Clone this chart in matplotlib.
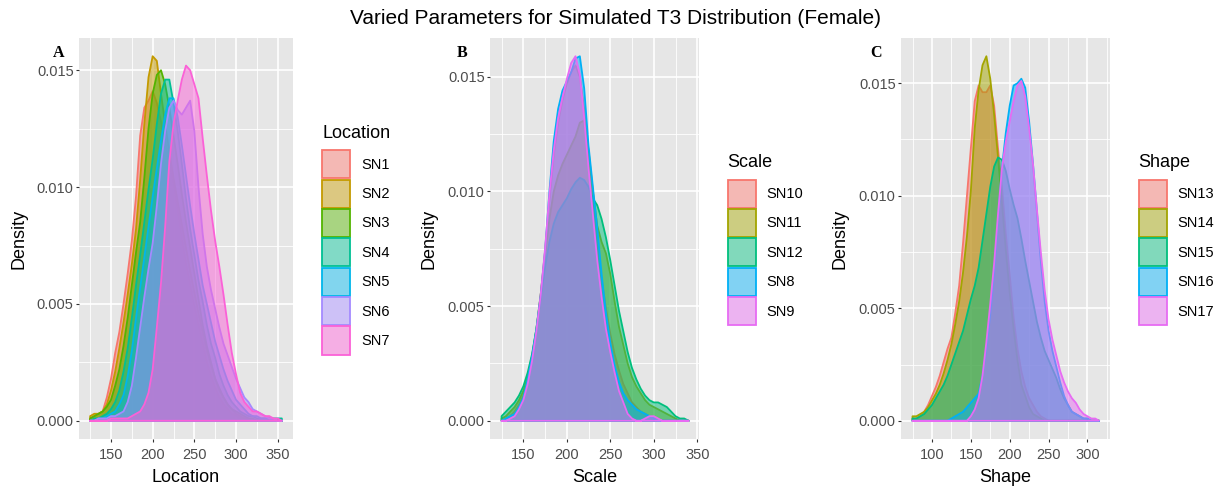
"""Varied parameters for simulated T3 distribution (female) - three density panels."""

import numpy as np
import matplotlib
matplotlib.use("Agg")
import matplotlib.pyplot as plt
import matplotlib.ticker as mticker
from matplotlib.colors import to_rgb
from matplotlib.patches import Patch

plt.rcParams["font.family"] = ["Liberation Sans", "DejaVu Sans"]

TITLE = "Varied Parameters for Simulated T3 Distribution (Female)"

# ---- panel A: location ------------------------------------------------------
A_X = np.arange(125, 360, 5)
A_LABELS = ["SN1", "SN2", "SN3", "SN4", "SN5", "SN6", "SN7"]
A_COLORS = ["#F8766D", "#C49A00", "#53B400", "#00C094", "#00B6EB", "#A58AFF", "#FB61D7"]
SN1 = [0.0001, 0.0002, 0.0003, 0.0004, 0.0010, 0.0018, 0.0029, 0.0038, 0.0050, 0.0063,
       0.0077, 0.0096, 0.0122, 0.0134, 0.0137, 0.0141, 0.0136, 0.0128, 0.0119, 0.0110,
       0.0101, 0.0090, 0.0078, 0.0067, 0.0058, 0.0049, 0.0041, 0.0033, 0.0025, 0.0019,
       0.0014, 0.0010, 0.0007, 0.0005, 0.0003, 0.0002, 0.0001, 0.0001, 0, 0,
       0, 0, 0, 0, 0, 0, 0]
SN2 = [0.0002, 0.0003, 0.0003, 0.0004, 0.0007, 0.0013, 0.0021, 0.0031, 0.0042, 0.0054,
       0.0067, 0.0082, 0.0103, 0.0127, 0.0147, 0.0156, 0.0154, 0.0140, 0.0127, 0.0115,
       0.0104, 0.0094, 0.0084, 0.0074, 0.0064, 0.0055, 0.0046, 0.0038, 0.0030, 0.0024,
       0.0018, 0.0013, 0.0010, 0.0007, 0.0005, 0.0003, 0.0002, 0.0001, 0.0001, 0,
       0, 0, 0, 0, 0, 0, 0]
SN3 = [0.0001, 0.0002, 0.0003, 0.0004, 0.0006, 0.0009, 0.0015, 0.0022, 0.0032, 0.0044,
       0.0058, 0.0072, 0.0085, 0.0104, 0.0125, 0.0140, 0.0148, 0.0150, 0.0144, 0.0134,
       0.0122, 0.0110, 0.0097, 0.0085, 0.0074, 0.0063, 0.0052, 0.0041, 0.0032, 0.0025,
       0.0018, 0.0014, 0.0010, 0.0007, 0.0005, 0.0004, 0.0003, 0.0002, 0.0001, 0.0001,
       0, 0, 0, 0, 0, 0, 0]
SN4 = [0, 0.0001, 0.0001, 0.0002, 0.0003, 0.0005, 0.0008, 0.0013, 0.0021, 0.0031,
       0.0044, 0.0058, 0.0071, 0.0085, 0.0099, 0.0112, 0.0127, 0.0140, 0.0146, 0.0146,
       0.0136, 0.0124, 0.0110, 0.0095, 0.0082, 0.0071, 0.0060, 0.0051, 0.0041, 0.0033,
       0.0027, 0.0020, 0.0015, 0.0011, 0.0008, 0.0006, 0.0004, 0.0003, 0.0002, 0.0002,
       0.0001, 0.0001, 0.0001, 0.0001, 0.0001, 0.0001, 0.0001]
SN5 = [0, 0, 0.0001, 0.0001, 0.0002, 0.0003, 0.0004, 0.0007, 0.0011, 0.0019,
       0.0030, 0.0044, 0.0057, 0.0070, 0.0083, 0.0096, 0.0108, 0.0120, 0.0131, 0.0138,
       0.0138, 0.0130, 0.0118, 0.0105, 0.0092, 0.0080, 0.0069, 0.0058, 0.0050, 0.0042,
       0.0034, 0.0028, 0.0022, 0.0017, 0.0013, 0.0009, 0.0007, 0.0005, 0.0003, 0.0002,
       0.0002, 0.0001, 0.0001, 0.0001, 0, 0, 0]
SN6 = [0, 0, 0.0001, 0.0001, 0.0001, 0.0002, 0.0002, 0.0003, 0.0004, 0.0008,
       0.0015, 0.0027, 0.0040, 0.0053, 0.0065, 0.0076, 0.0092, 0.0110, 0.0124, 0.0134,
       0.0137, 0.0133, 0.0131, 0.0134, 0.0137, 0.0124, 0.0100, 0.0080, 0.0066, 0.0056,
       0.0048, 0.0040, 0.0033, 0.0028, 0.0023, 0.0018, 0.0014, 0.0010, 0.0008, 0.0005,
       0.0004, 0.0003, 0.0002, 0.0001, 0.0001, 0, 0]
SN7 = [0, 0, 0, 0, 0, 0.0001, 0.0001, 0.0001, 0.0001, 0.0001,
       0.0002, 0.0003, 0.0004, 0.0007, 0.0012, 0.0022, 0.0040, 0.0059, 0.0083, 0.0111,
       0.0127, 0.0137, 0.0146, 0.0152, 0.0150, 0.0144, 0.0138, 0.0121, 0.0105, 0.0090,
       0.0077, 0.0066, 0.0054, 0.0041, 0.0029, 0.0020, 0.0012, 0.0008, 0.0006, 0.0004,
       0.0004, 0.0003, 0.0002, 0.0002, 0.0001, 0.0001, 0]

# ---- panel B: scale ---------------------------------------------------------
B_X = np.arange(125, 345, 5)
B_LABELS = ["SN10", "SN11", "SN12", "SN8", "SN9"]
B_COLORS = ["#F8766D", "#A3A500", "#00BF7D", "#00B0F6", "#E76BF3"]
SN10 = [0, 0.0001, 0.0002, 0.0004, 0.0007, 0.0011, 0.0018, 0.0027, 0.0039, 0.0055,
        0.0074, 0.0096, 0.0116, 0.0130, 0.0140, 0.0147, 0.0152, 0.0155, 0.0150, 0.0136,
        0.0116, 0.0096, 0.0078, 0.0062, 0.0049, 0.0038, 0.0029, 0.0022, 0.0016, 0.0012,
        0.0008, 0.0006, 0.0004, 0.0003, 0.0002, 0.0001, 0.0001, 0, 0, 0,
        0, 0, 0, 0]
SN11 = [0.0001, 0.0002, 0.0004, 0.0006, 0.0009, 0.0013, 0.0019, 0.0028, 0.0040, 0.0055,
        0.0072, 0.0088, 0.0100, 0.0107, 0.0112, 0.0116, 0.0120, 0.0124, 0.0130, 0.0131,
        0.0118, 0.0100, 0.0085, 0.0078, 0.0073, 0.0064, 0.0052, 0.0041, 0.0033, 0.0025,
        0.0019, 0.0015, 0.0012, 0.0009, 0.0007, 0.0006, 0.0005, 0.0004, 0.0003, 0.0002,
        0.0001, 0, 0, 0]
SN12 = [0.0002, 0.0004, 0.0006, 0.0008, 0.0011, 0.0015, 0.0021, 0.0029, 0.0040, 0.0054,
        0.0067, 0.0078, 0.0086, 0.0091, 0.0094, 0.0097, 0.0101, 0.0104, 0.0106, 0.0105,
        0.0102, 0.0097, 0.0094, 0.0088, 0.0080, 0.0070, 0.0059, 0.0048, 0.0039, 0.0030,
        0.0023, 0.0018, 0.0014, 0.0011, 0.0009, 0.0008, 0.0008, 0.0007, 0.0006, 0.0004,
        0.0002, 0.0001, 0.0001, 0]
SN8 = [0, 0.0001, 0.0002, 0.0003, 0.0006, 0.0010, 0.0018, 0.0028, 0.0040, 0.0055,
       0.0074, 0.0100, 0.0122, 0.0136, 0.0144, 0.0148, 0.0152, 0.0158, 0.0159, 0.0145,
       0.0120, 0.0102, 0.0084, 0.0064, 0.0047, 0.0034, 0.0024, 0.0017, 0.0012, 0.0009,
       0.0007, 0.0005, 0.0004, 0.0003, 0.0002, 0.0001, 0, 0, 0, 0,
       0, 0, 0, 0]
SN9 = [0, 0, 0.0001, 0.0002, 0.0005, 0.0009, 0.0016, 0.0026, 0.0039, 0.0055,
       0.0075, 0.0099, 0.0118, 0.0132, 0.0141, 0.0149, 0.0156, 0.0159, 0.0151, 0.0132,
       0.0110, 0.0090, 0.0070, 0.0054, 0.0040, 0.0030, 0.0021, 0.0013, 0.0008, 0.0003,
       0.0001, 0, 0, 0.0001, 0.0002, 0.0002, 0.0001, 0, 0, 0,
       0, 0, 0, 0]

# ---- panel C: shape ---------------------------------------------------------
C_X = np.arange(75, 320, 5)
C_LABELS = ["SN13", "SN14", "SN15", "SN16", "SN17"]
C_COLORS = ["#F8766D", "#A3A500", "#00BF7D", "#00B0F6", "#E76BF3"]
SN13 = [0.0001, 0.0001, 0.0002, 0.0004, 0.0007, 0.0011, 0.0015, 0.0020, 0.0026, 0.0032,
        0.0037, 0.0048, 0.0060, 0.0079, 0.0100, 0.0121, 0.0142, 0.0149, 0.0146, 0.0146,
        0.0149, 0.0140, 0.0121, 0.0104, 0.0083, 0.0065, 0.0046, 0.0032, 0.0022, 0.0015,
        0.0010, 0.0007, 0.0004, 0.0002, 0.0001, 0, 0, 0, 0, 0,
        0, 0, 0, 0, 0, 0, 0, 0, 0]
SN14 = [0.0002, 0.0002, 0.0003, 0.0004, 0.0006, 0.0009, 0.0012, 0.0016, 0.0021, 0.0027,
        0.0034, 0.0043, 0.0053, 0.0066, 0.0082, 0.0102, 0.0130, 0.0147, 0.0158, 0.0162,
        0.0152, 0.0136, 0.0117, 0.0097, 0.0076, 0.0057, 0.0041, 0.0027, 0.0016, 0.0011,
        0.0006, 0.0003, 0.0002, 0.0001, 0, 0, 0, 0, 0, 0,
        0, 0, 0, 0, 0, 0, 0, 0, 0]
SN15 = [0.0001, 0.0001, 0.0002, 0.0003, 0.0005, 0.0007, 0.0010, 0.0013, 0.0016, 0.0020,
        0.0025, 0.0030, 0.0035, 0.0040, 0.0047, 0.0054, 0.0060, 0.0068, 0.0080, 0.0092,
        0.0104, 0.0113, 0.0117, 0.0116, 0.0111, 0.0103, 0.0096, 0.0090, 0.0081, 0.0071,
        0.0062, 0.0053, 0.0044, 0.0037, 0.0031, 0.0027, 0.0023, 0.0019, 0.0014, 0.0010,
        0.0007, 0.0004, 0.0003, 0.0002, 0.0001, 0.0001, 0, 0, 0]
SN16 = [0, 0, 0, 0, 0, 0, 0, 0, 0, 0,
        0.0001, 0.0002, 0.0003, 0.0004, 0.0006, 0.0008, 0.0010, 0.0012, 0.0020, 0.0032,
        0.0047, 0.0066, 0.0090, 0.0112, 0.0128, 0.0140, 0.0149, 0.0150, 0.0152, 0.0148,
        0.0133, 0.0114, 0.0093, 0.0071, 0.0053, 0.0040, 0.0031, 0.0024, 0.0017, 0.0011,
        0.0007, 0.0004, 0.0003, 0.0002, 0.0001, 0.0001, 0, 0, 0]
SN17 = [0, 0, 0, 0, 0, 0, 0, 0, 0, 0,
        0, 0, 0, 0, 0, 0.0002, 0.0005, 0.0010, 0.0020, 0.0035,
        0.0052, 0.0070, 0.0092, 0.0112, 0.0124, 0.0133, 0.0142, 0.0149, 0.0151, 0.0144,
        0.0130, 0.0114, 0.0094, 0.0075, 0.0058, 0.0045, 0.0036, 0.0029, 0.0022, 0.0017,
        0.0013, 0.0010, 0.0008, 0.0005, 0.0003, 0.0002, 0.0001, 0.0001, 0]

ALPHA = 0.5
BG = "#E6E6E6"


def key_fill(color):
    # fill of the legend key: alpha colour over grey95 key background
    rgb = np.array(to_rgb(color))
    return tuple(0.46 * rgb + 0.54 * 0.94)


def draw_panel(ax, x, series, labels, colors, xlim, xticks, xlabel, letter, letter_x):
    for y, c in zip(series, colors):
        y = np.asarray(y, dtype=float)
        ax.fill(np.r_[x[0], x, x[-1]], np.r_[0, y, 0],
                facecolor=(*to_rgb(c), ALPHA), edgecolor=c, lw=1.3,
                joinstyle="round")

    ymax = max(max(s) for s in series)
    ax.set_ylim(-0.05 * ymax, 1.05 * ymax)
    ax.set_xlim(*xlim)

    ax.set_facecolor(BG)
    for spine in ax.spines.values():
        spine.set_visible(False)
    ax.set_xticks(xticks)
    ax.set_yticks([0, 0.005, 0.010, 0.015])
    ax.yaxis.set_major_formatter(mticker.FormatStrFormatter("%.3f"))
    ax.xaxis.set_minor_locator(mticker.AutoMinorLocator(2))
    ax.yaxis.set_minor_locator(mticker.AutoMinorLocator(2))
    ax.grid(which="major", color="white", lw=1.2)
    ax.grid(which="minor", color="white", lw=0.6)
    ax.set_axisbelow(True)
    ax.tick_params(which="minor", length=0)
    ax.tick_params(which="major", length=2.2, width=0.8, color="#333333",
                   labelsize=10.5, labelcolor="#4D4D4D")
    ax.tick_params(axis="y", pad=1.6)
    ax.tick_params(axis="x", pad=4.6)

    ax.set_xlabel(xlabel, fontsize=13, color="black")
    ax.set_ylabel("Density", fontsize=13, color="black")
    ax.xaxis.set_label_coords(0.5, -0.074)

    ax.text(letter_x, 0.953, letter, transform=ax.transAxes, ha="left",
            va="baseline", fontsize=11.5, fontweight="bold",
            family=["Liberation Serif", "DejaVu Serif"])

    handles = [Patch(facecolor=key_fill(c), edgecolor=c, lw=1.3) for c in colors]
    leg = ax.legend(handles, labels, title=xlabel, loc="center left",
                    bbox_to_anchor=(1.137, 0.497), frameon=False, borderaxespad=0,
                    borderpad=0, handlelength=1.92, handleheight=2.583,
                    labelspacing=0.09, handletextpad=0.75, fontsize=10.5,
                    title_fontsize=13, alignment="left")
    # a little more room between the legend title and the keys
    leg._legend_box.sep = 6


fig = plt.figure(figsize=(12.3, 4.87), dpi=100)
W, H = 1230, 487


def px_axes(left, right, top, bottom):
    return fig.add_axes([left / W, 1 - bottom / H, (right - left) / W, (bottom - top) / H])


ax_a = px_axes(79, 293, 38, 439)
ax_b = px_axes(490, 699, 38, 439)
ax_c = px_axes(901, 1110, 38, 439)

draw_panel(ax_a, A_X, [SN1, SN2, SN3, SN4, SN5, SN6, SN7], A_LABELS, A_COLORS,
           (111.6, 368.4), [150, 200, 250, 300, 350], "Location", "A", -0.123)
draw_panel(ax_b, B_X, [SN10, SN11, SN12, SN8, SN9], B_LABELS, B_COLORS,
           (111.7, 352.0), [150, 200, 250, 300, 350], "Scale", "B", -0.159)
draw_panel(ax_c, C_X, [SN13, SN14, SN15, SN16, SN17], C_LABELS, C_COLORS,
           (60.2, 329.0), [100, 150, 200, 250, 300], "Shape", "C", -0.148)

ax_a.yaxis.set_label_coords(-0.242, 0.5)
ax_b.yaxis.set_label_coords(-0.25, 0.5)
ax_c.yaxis.set_label_coords(-0.252, 0.5)

fig.text(0.5, 1 - 19 / H, TITLE, ha="center", va="center", fontsize=15)

fig.savefig("out.png", dpi=100, facecolor="white")
